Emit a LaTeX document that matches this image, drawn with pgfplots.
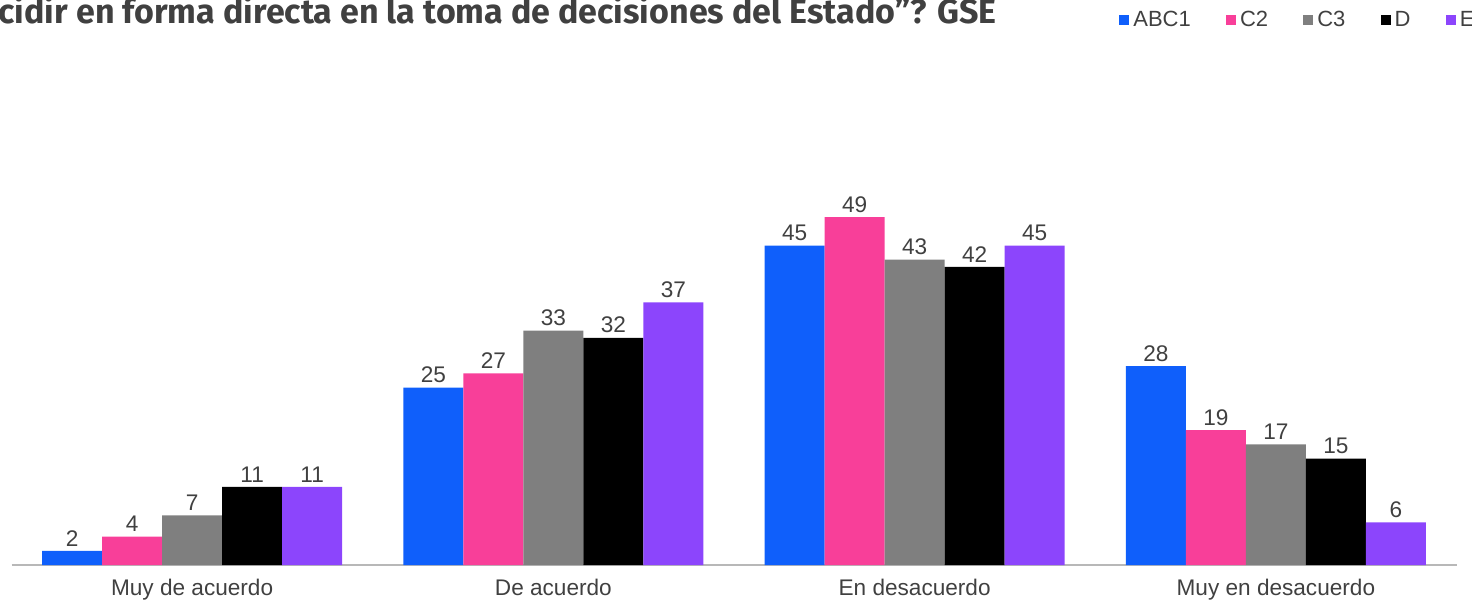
\documentclass[border=0pt]{standalone}
\usepackage{pgfplots}
\pgfplotsset{compat=1.18}
\usepackage{fontspec}
\setmainfont{Liberation Sans}
\newfontfamily\titlefont{Fira Sans}

\definecolor{cABC}{HTML}{0F5FFB}
\definecolor{cCdos}{HTML}{F83F99}
\definecolor{cCtres}{HTML}{7F7F7F}
\definecolor{cD}{HTML}{000000}
\definecolor{cE}{HTML}{8C45FC}
\definecolor{txtgray}{HTML}{404040}
\definecolor{axgray}{HTML}{B8B8B8}

\pgfplotstableread{
x ABC C2 C3 D E
0 2  4  7  11 11
1 25 27 33 32 37
2 45 49 43 42 45
3 28 19 17 15 6
}\gse

\begin{document}
\begin{tikzpicture}
\begin{axis}[
  at={(5.75pt,18.5pt)}, anchor=south west,
  scale only axis, width=722.5pt, height=284pt,
  xmin=-0.5, xmax=3.5, ymin=0, ymax=80,
  enlarge x limits=false, enlarge y limits=false,
  ybar=0pt, bar width=30pt,
  axis x line*=bottom, axis y line=none,
  x axis line style={draw=axgray, line width=0.75pt},
  major tick length=0pt,
  ytick=\empty,
  xtick={0,1,2,3},
  xticklabels={Muy de acuerdo, De acuerdo, En desacuerdo, Muy en desacuerdo},
  xticklabel style={font=\fontsize{11.3pt}{13pt}\selectfont, text=txtgray, anchor=base, yshift=-15pt},
  /pgf/number format/assume math mode=true,
  nodes near coords,
  every node near coord/.append style={font=\fontsize{11.3pt}{13pt}\selectfont, text=txtgray, anchor=south, inner sep=0pt, yshift=2.2pt},
  legend columns=-1,
  legend image code/.code={\fill[#1,draw=none] (0pt,-2.5pt) rectangle (5pt,2.5pt);},
  legend style={at={(0.7664,0.9595)}, anchor=west, draw=none, fill=none, inner sep=0pt,
    font=\fontsize{11pt}{12pt}\selectfont, text=txtgray,
    /tikz/every even column/.append style={column sep=15.6pt}},
]
\addplot[fill=cABC, draw=none] table[x=x, y=ABC] {\gse};
\addlegendentry{ABC1}
\addplot[fill=cCdos, draw=none] table[x=x, y=C2] {\gse};
\addlegendentry{C2}
\addplot[fill=cCtres, draw=none] table[x=x, y=C3] {\gse};
\addlegendentry{C3}
\addplot[fill=cD, draw=none] table[x=x, y=D] {\gse};
\addlegendentry{D}
\addplot[fill=cE, draw=none] table[x=x, y=E] {\gse};
\addlegendentry{E}
\end{axis}
\node[anchor=base east, inner sep=0pt, text=txtgray, font=\titlefont\bfseries\fontsize{17pt}{19pt}\selectfont]
  at (498.5pt,289.5pt) {decidir en forma directa en la toma de decisiones del Estado”? GSE};
\pgfresetboundingbox
\path[use as bounding box] (0,0) rectangle (736pt,301pt);
\end{tikzpicture}
\end{document}
